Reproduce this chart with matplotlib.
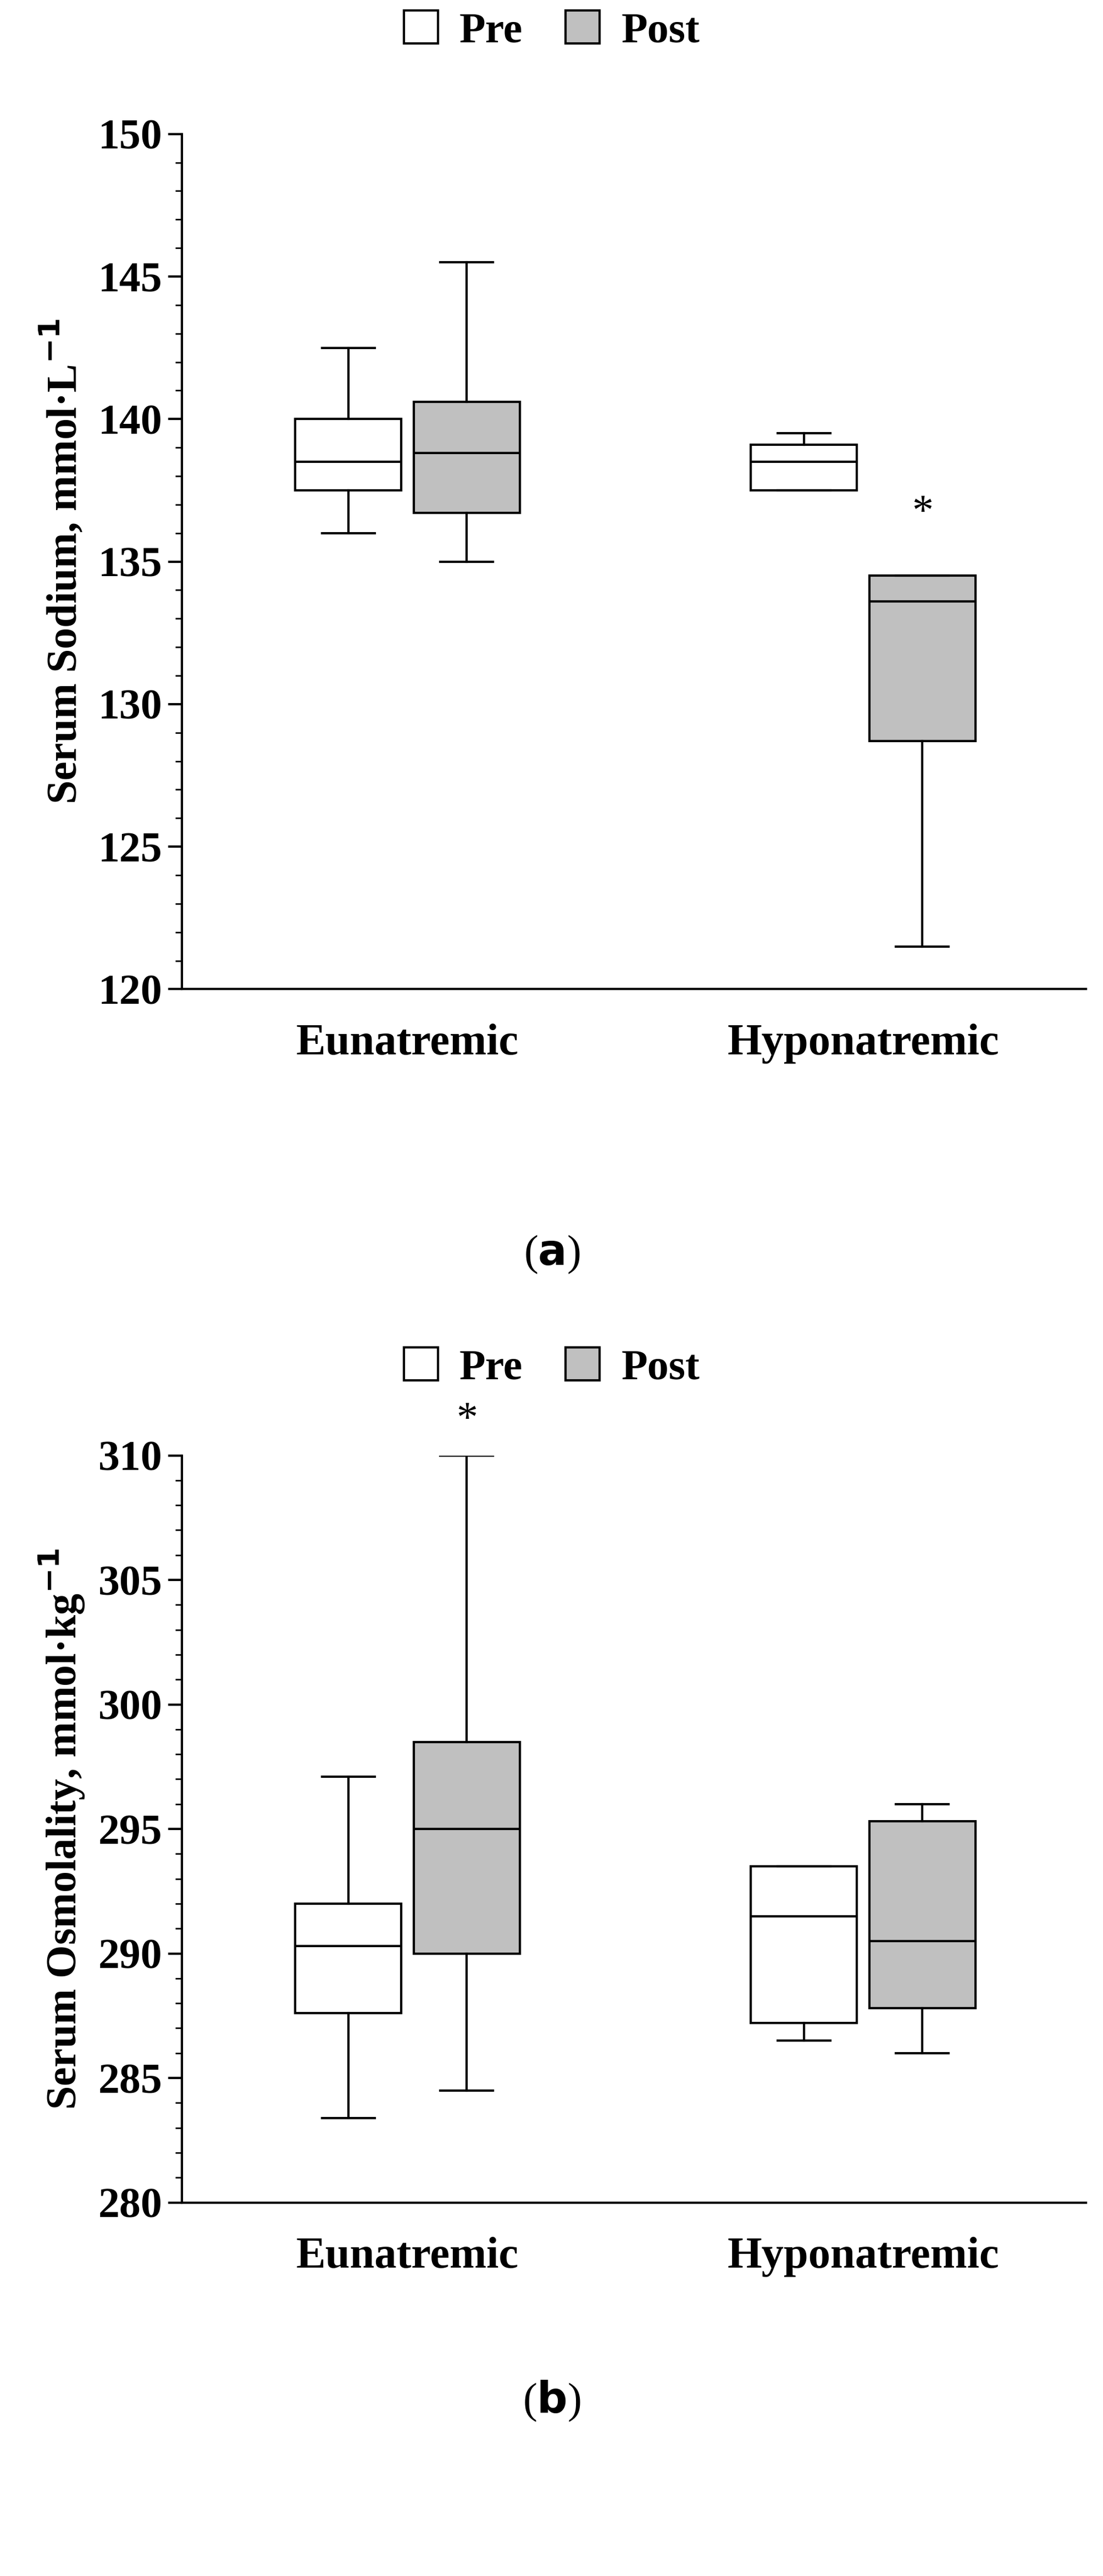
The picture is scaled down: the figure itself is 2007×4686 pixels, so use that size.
import matplotlib
matplotlib.use("Agg")
import matplotlib.pyplot as plt
from matplotlib.patches import Patch
from matplotlib.ticker import MultipleLocator

plt.rcParams['font.family'] = ['Liberation Serif', 'DejaVu Serif']
plt.rcParams['font.weight'] = 'bold'
plt.rcParams['mathtext.default'] = 'bf'

groups = ["Eunatremic", "Hyponatremic"]

# whislo, q1, med, q3, whishi  -> [Eu pre, Eu post, Hypo pre, Hypo post]
sodium = [
    [136.0, 137.5, 138.5, 140.0, 142.5],
    [135.0, 136.7, 138.8, 140.6, 145.5],
    [137.5, 137.5, 138.5, 139.1, 139.5],
    [121.5, 128.7, 133.6, 134.5, 134.5],
]
osmol = [
    [283.4, 287.6, 290.3, 292.0, 297.1],
    [284.5, 290.0, 295.0, 298.5, 310.0],
    [286.5, 287.2, 291.5, 293.5, 293.5],
    [286.0, 287.8, 290.5, 295.3, 296.0],
]
sodium_star = (2.13, 136.0)
osmol_star = (1.13, 310.6)


def panel(rect, data, ylim, ylabel, star, leg_y, cap_y, cap):
    ax = fig.add_axes(rect)
    stats = []
    for d in data:
        stats.append(dict(whislo=d[0], q1=d[1], med=d[2], q3=d[3], whishi=d[4], fliers=[]))
    pos = [0.87, 1.13, 1.87, 2.13]
    colors = ["white", "#c0c0c0", "white", "#c0c0c0"]
    lw = 3
    bp = ax.bxp(stats, positions=pos, widths=0.233, patch_artist=True, showfliers=False,
                boxprops=dict(linewidth=lw), medianprops=dict(color="black", linewidth=lw),
                whiskerprops=dict(linewidth=lw), capprops=dict(linewidth=lw))
    for b, c in zip(bp['boxes'], colors):
        b.set_facecolor(c)
        b.set_edgecolor("black")
    for c in bp['caps']:
        m = c.get_xdata().mean()
        c.set_xdata([m - 0.058, m + 0.058])
    ax.set_xlim(0.505, 2.489)
    ax.set_ylim(*ylim)
    ax.set_xticks([1, 2])
    ax.set_xticklabels(groups, fontsize=58, fontweight='bold')
    ax.tick_params(axis='x', length=0, pad=45)
    ax.yaxis.set_major_locator(MultipleLocator(5))
    ax.yaxis.set_minor_locator(MultipleLocator(1))
    ax.tick_params(axis='y', which='major', length=18, width=3, labelsize=56, pad=8)
    ax.tick_params(axis='y', which='minor', length=9, width=2)
    for t in ax.get_yticklabels():
        t.set_fontweight('bold')
    for s in ['top', 'right']:
        ax.spines[s].set_visible(False)
    for s in ['left', 'bottom']:
        ax.spines[s].set_linewidth(3)
    ax.set_ylabel(ylabel, fontsize=56, fontweight='bold', labelpad=15)
    ax.text(star[0], star[1], "*", ha='center', va='bottom', fontsize=56,
            fontweight='normal', clip_on=False)
    handles = [Patch(facecolor="white", edgecolor="black", linewidth=3, label="Pre"),
               Patch(facecolor="#c0c0c0", edgecolor="black", linewidth=3, label="Post")]
    fig.legend(handles=handles, loc='center', bbox_to_anchor=(0.5, leg_y), ncol=2, frameon=False,
               prop=dict(size=56, weight='bold'), handlelength=0.8, handleheight=0.8,
               columnspacing=1.0, handletextpad=0.5)
    fig.text(0.5, cap_y, cap, ha='center', va='center', fontsize=56, fontweight='normal')
    return ax


fig = plt.figure(figsize=(20.08, 46.86), dpi=100)
panel([0.165, 0.616, 0.819, 0.332], sodium, (120, 150), "Serum Sodium, mmol·L$^{-1}$",
      sodium_star, 0.988, 0.513, "($\\mathbf{a}$)")
panel([0.165, 0.145, 0.819, 0.29], osmol, (280, 310), "Serum Osmolality, mmol·kg$^{-1}$",
      osmol_star, 0.469, 0.068, "($\\mathbf{b}$)")
fig.savefig("out.png", dpi=100)
